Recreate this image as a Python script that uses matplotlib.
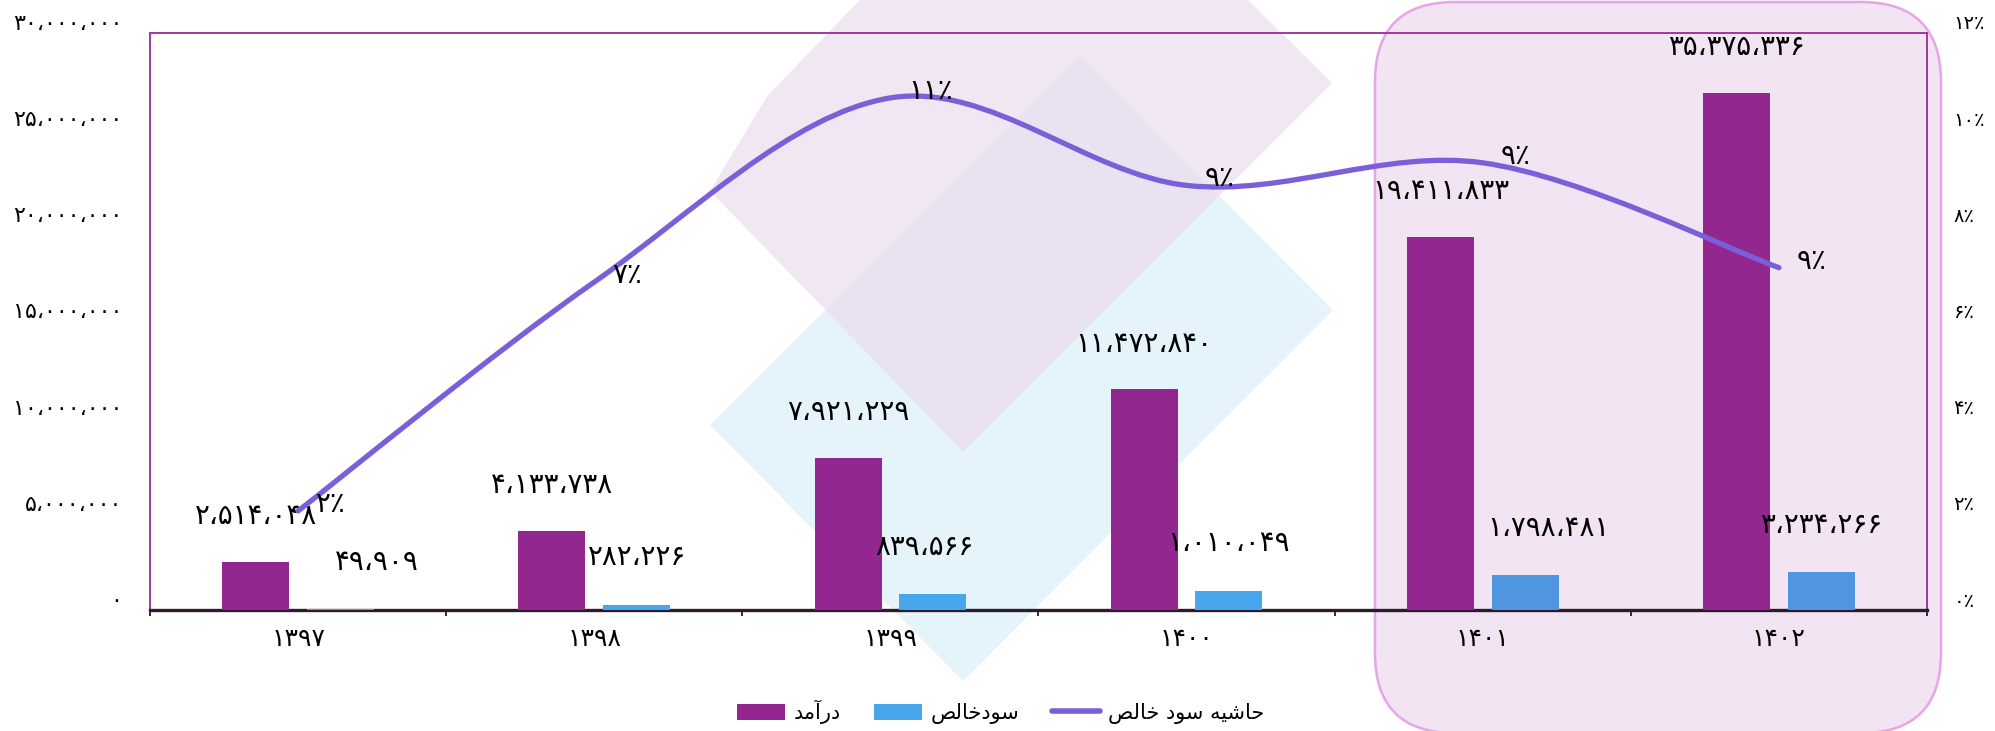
import numpy as np
import matplotlib
matplotlib.use("Agg")
import matplotlib.pyplot as plt
from matplotlib.path import Path
from matplotlib.patches import PathPatch, Polygon, FancyBboxPatch, Patch
from matplotlib.lines import Line2D
import matplotlib.transforms as mtransforms

plt.rcParams['font.family'] = ['DejaVu Sans']

# data
years = [1397, 1398, 1399, 1400, 1401, 1402]
revenue = [2514048, 4133738, 7921229, 11472840, 19411833, 26900000]      # bar heights as drawn
net_profit = [49909, 282226, 839566, 1010049, 1798481, 1960000]          # bar heights as drawn
revenue_labels = [2514048, 4133738, 7921229, 11472840, 19411833, 35375336]  # numbers printed above bars
net_profit_labels = [49909, 282226, 839566, 1010049, 1798481, 3234266]
margin = [2.06, 6.82, 10.65, 8.83, 9.3, 7.12]      # line, % (right axis)
margin_labels = [2, 7, 11, 9, 9, 9]
left_ticks = [0, 5000000, 10000000, 15000000, 20000000, 25000000, 30000000]
right_ticks = [0, 2, 4, 6, 8, 10, 12]
legend_names = ['درآمد', 'سودخالص', 'حاشیه سود خالص']

purple = '#92278F'
blue = '#47A6EC'
blue_hl = '#4F95E0'
line_col = '#7B5FD9'
frame_col = '#9B3A9B'

# --- tiny persian shaper (matplotlib does no arabic shaping / bidi) ---
FORMS = {
    'ا': ('\uFE8D', '\uFE8E', None, None),
    'آ': ('\uFE81', '\uFE82', None, None),
    'د': ('\uFEA9', '\uFEAA', None, None),
    'ر': ('\uFEAD', '\uFEAE', None, None),
    'و': ('\uFEED', '\uFEEE', None, None),
    'م': ('\uFEE1', '\uFEE2', '\uFEE3', '\uFEE4'),
    'س': ('\uFEB1', '\uFEB2', '\uFEB3', '\uFEB4'),
    'خ': ('\uFEA5', '\uFEA6', '\uFEA7', '\uFEA8'),
    'ل': ('\uFEDD', '\uFEDE', '\uFEDF', '\uFEE0'),
    'ص': ('\uFEB9', '\uFEBA', '\uFEBB', '\uFEBC'),
    'ح': ('\uFEA1', '\uFEA2', '\uFEA3', '\uFEA4'),
    'ش': ('\uFEB5', '\uFEB6', '\uFEB7', '\uFEB8'),
    'ی': ('\uFBFC', '\uFBFD', '\uFBFE', '\uFBFF'),
    'ه': ('\uFEE9', '\uFEEA', '\uFEEB', '\uFEEC'),
}


def shape(text):
    out = []
    for i, ch in enumerate(text):
        if ch not in FORMS:
            out.append(ch)
            continue
        prev = text[i - 1] if i > 0 else ''
        nxt = text[i + 1] if i + 1 < len(text) else ''
        join_prev = prev in FORMS and FORMS[prev][2] is not None
        join_next = FORMS[ch][2] is not None and nxt in FORMS
        iso, fin, ini, med = FORMS[ch]
        if join_prev and join_next:
            out.append(med)
        elif join_prev:
            out.append(fin)
        elif join_next:
            out.append(ini)
        else:
            out.append(iso)
    return ''.join(reversed(out))


fa = str.maketrans('0123456789,', '۰۱۲۳۴۵۶۷۸۹،')


def fa_num(n):
    return f"{n:,}".translate(fa)


def fa_pct(n):
    return str(n).translate(fa) + '٪'


fig = plt.figure(figsize=(19.95, 7.31), dpi=100)
px = fig.dpi_scale_trans  # inches


def P(x, y):
    # pixel position (top-left origin) -> inches
    return (x / 100.0, (731 - y) / 100.0)


# background watermark shapes
blue_shape = Polygon([P(1080, 56), P(1333, 310), P(963, 681), P(710, 425)],
                     closed=True, transform=px, facecolor='#E5F4FB', edgecolor='none', zorder=-3)
pink_shape = Polygon([P(860, 0), P(768, 95), P(710, 191), P(963, 452), P(1332, 83), P(1248, 0)],
                     closed=True, transform=px, facecolor=(236/255, 221/255, 238/255), alpha=0.7,
                     edgecolor='none', zorder=-2)
highlight = FancyBboxPatch(P(1375, 733), 5.66, 7.31, boxstyle='round,pad=0,rounding_size=0.8',
                           transform=px, facecolor='#F2E4F2', edgecolor='#E6A5E6', lw=1.8, zorder=-1)
fig.patches.extend([blue_shape, pink_shape, highlight])

ax = fig.add_axes([0.0752, 0.1655, 0.8907, 0.7894])
ax.set_facecolor('none')
ax2 = ax.twinx()
ax2.set_facecolor('none')

x = np.arange(len(years))
w = 0.226
ax.bar(x - 0.143, revenue, w, color=purple, zorder=3)
net_colors = [blue, blue, blue, blue, blue_hl, blue_hl]
ax.bar(x + 0.143, net_profit, w, color=net_colors, zorder=3)

ax.set_xlim(-0.5, len(years) - 0.5)
ax.set_ylim(0, 30000000)
ax.set_yticks(left_ticks)
ax.set_yticklabels([fa_num(v) for v in left_ticks], fontsize=16)
ax.tick_params(axis='y', length=0, pad=20)

ax.set_xticks(np.arange(-0.5, len(years), 1))
ax.set_xticklabels([])
ax.tick_params(axis='x', which='major', length=4, width=1.3, color='#231F20', direction='out')
ax.set_xticks(x, minor=True)
ax.set_xticklabels([str(y).translate(fa) for y in years], minor=True, fontsize=18)
ax.tick_params(axis='x', which='minor', length=0, pad=12)

for s in ['left', 'top', 'right']:
    ax.spines[s].set_color(frame_col)
    ax.spines[s].set_linewidth(1.4)
ax.spines['bottom'].set_color('#2B1B2B')
ax.spines['bottom'].set_linewidth(2.4)
for s in ax2.spines.values():
    s.set_visible(False)

ax2.set_ylim(0, 12)
ax2.set_yticks(right_ticks)
ax2.set_yticklabels([fa_pct(v) for v in right_ticks], fontsize=14)
ax2.tick_params(axis='y', length=0, pad=19)

# tick labels sit a little above their tick in the original
lift = mtransforms.ScaledTranslation(0, 11 / 100.0, fig.dpi_scale_trans)
for lbl in ax.get_yticklabels() + ax2.get_yticklabels():
    lbl.set_transform(lbl.get_transform() + lift)

# smoothed margin line (bezier through the points, like excel's smooth line)
pts = list(zip(x, margin))
ext = [pts[0]] + pts + [pts[-1]]
verts = [pts[0]]
codes = [Path.MOVETO]
for i in range(len(pts) - 1):
    p0, p1, p2, p3 = [np.array(ext[j]) for j in range(i, i + 4)]
    c1 = p1 + (p2 - p0) / 6.0
    c2 = p2 - (p3 - p1) / 6.0
    verts += [tuple(c1), tuple(c2), tuple(p2)]
    codes += [Path.CURVE4] * 3
ax2.add_patch(PathPatch(Path(verts, codes), fill=False, edgecolor=line_col, lw=3.8,
                        capstyle='round', joinstyle='round', zorder=4))

# labels
for i in range(len(years)):
    ax.annotate(fa_num(revenue_labels[i]), (x[i] - 0.143, revenue[i]), xytext=(0, 33),
                textcoords='offset points', ha='center', va='center', fontsize=20, zorder=5)
net_dx = [26, 0, -6, 0, 17, 0]
for i in range(len(years)):
    ax.annotate(fa_num(net_profit_labels[i]), (x[i] + 0.143, net_profit[i]), xytext=(net_dx[i], 34),
                textcoords='offset points', ha='center', va='center', fontsize=20, zorder=5)
for i in range(len(years)):
    ax2.annotate(fa_pct(margin_labels[i]), (x[i], margin[i]), xytext=(13, 5),
                 textcoords='offset points', ha='left', va='center', fontsize=20, zorder=5)

handles = [Patch(facecolor=purple), Patch(facecolor=blue),
           Line2D([], [], color=line_col, lw=4, solid_capstyle='round')]
fig.legend(handles, [shape(t) for t in legend_names], loc='center',
           bbox_to_anchor=(1001 / 1995, 1 - 712 / 731), ncol=3, frameon=False,
           fontsize=15, handlelength=2.3, handleheight=0.85, handletextpad=0.4, columnspacing=1.6)

fig.savefig('out.png', dpi=100)
